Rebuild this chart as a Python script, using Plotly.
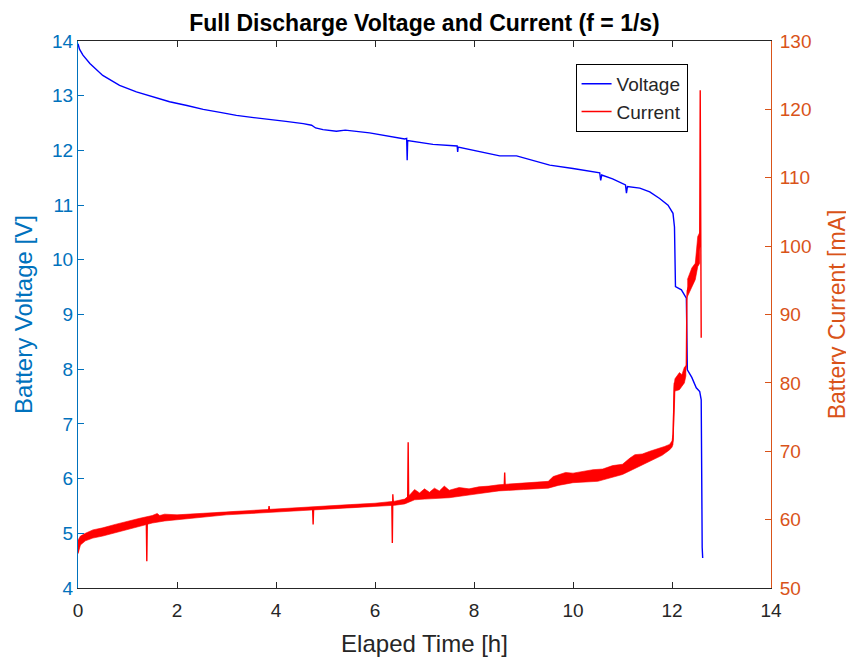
import plotly.graph_objects as go

# ---- Voltage (left axis) ----
volt_t = [0.00, 0.03, 0.10, 0.24, 0.50, 0.84, 1.18, 1.50, 1.85, 2.20, 2.53, 2.90, 3.20, 3.55, 3.87,
          4.20, 4.55, 4.72, 4.80, 4.95, 5.22, 5.40, 5.89, 6.20, 6.60, 6.64, 6.65, 6.66, 7.17, 7.66,
          7.67, 7.68, 8.00, 8.30, 8.52, 8.86, 9.20, 9.53, 10.00, 10.30, 10.54, 10.56, 10.58, 10.80,
          11.06, 11.08, 11.10, 11.35, 11.55, 11.75, 11.92, 12.02, 12.05, 12.07, 12.19, 12.29, 12.31,
          12.40, 12.49, 12.56, 12.59, 12.61, 12.62]
volt_v = [13.95, 13.85, 13.74, 13.59, 13.37, 13.19, 13.07, 12.98, 12.89, 12.82, 12.75, 12.69, 12.64, 12.60, 12.57,
          12.53, 12.49, 12.46, 12.41, 12.38, 12.35, 12.37, 12.32, 12.27, 12.21, 12.22, 11.82, 12.18, 12.11, 12.08,
          11.97, 12.06, 12.00, 11.93, 11.90, 11.90, 11.82, 11.73, 11.67, 11.62, 11.59, 11.45, 11.55, 11.48,
          11.37, 11.22, 11.34, 11.31, 11.24, 11.12, 11.00, 10.85, 10.60, 9.51, 9.45, 9.30, 7.99,
          7.85, 7.66, 7.59, 7.44, 4.74, 4.55]

# ---- Current (right axis) ----
cur_t = [0.00, 0.01, 0.05, 0.15, 0.30, 0.50, 1.00, 1.38, 1.39, 1.40, 2.00, 2.46, 3.00, 3.85, 3.86, 3.87,
         4.74, 4.75, 4.76, 5.83, 6.34, 6.35, 6.36, 6.37, 6.66, 6.67, 6.68, 7.00, 7.50, 8.00, 8.61, 8.62,
         8.63, 9.00, 9.50, 10.00, 10.50, 11.00, 11.50, 11.82, 12.00, 12.02, 12.04, 12.05, 12.10, 12.20,
         12.27, 12.29, 12.30, 12.31, 12.40, 12.47, 12.52, 12.56, 12.57, 12.575, 12.58, 12.59]
cur_ma = [55.2, 56.0, 57.0, 57.5, 57.9, 58.2, 59.2, 59.9, 53.9, 60.0, 60.4, 60.7, 61.0, 61.3, 62.0, 61.3,
          61.6, 59.3, 61.6, 62.0, 62.4, 56.6, 63.7, 62.4, 62.7, 71.3, 62.9, 63.6, 63.7, 64.1, 64.5, 66.9,
          64.5, 64.9, 65.1, 66.1, 66.5, 67.3, 69.1, 69.9, 71.0, 71.7, 76.0, 80.0, 79.5, 80.5,
          81.9, 82.5, 92.0, 93.5, 95.5, 96.3, 99.0, 100.0, 122.8, 107.0, 110.0, 86.6]

# noise envelope of the current trace (lower edge)
band_lo_t = [0.00, 0.05, 0.15, 0.30, 0.50, 0.75, 1.00, 1.25, 1.50, 1.75, 2.00, 2.50, 3.00, 3.50, 4.00,
             4.50, 5.00, 5.50, 6.00, 6.40, 6.60, 6.70, 6.80, 7.00, 7.50, 8.00, 8.50, 9.00, 9.50,
             9.70, 10.00, 10.50, 11.00, 11.20, 11.50, 11.80, 11.95, 12.00, 12.02, 12.04, 12.06,
             12.15, 12.25, 12.28]
band_low = [55.0, 56.3, 56.9, 57.3, 57.6, 58.1, 58.6, 59.1, 59.5, 59.8, 60.0, 60.4, 60.7, 60.9, 61.1,
            61.3, 61.5, 61.7, 61.9, 62.1, 62.3, 62.6, 62.9, 63.0, 63.2, 63.7, 64.2, 64.4, 64.6,
            65.0, 65.4, 65.6, 66.6, 67.3, 68.3, 69.4, 70.2, 70.6, 71.0, 75.0, 78.8,
            79.0, 80.0, 81.0]
# upper edge, with the visible noise spikes
band_hi_t = [0.00, 0.05, 0.15, 0.30, 0.50, 0.75, 1.00, 1.25, 1.50, 1.60, 1.65, 1.75, 2.00, 2.50, 3.00,
             3.50, 4.00, 4.50, 5.00, 5.50, 6.00, 6.40, 6.60, 6.70, 6.80, 6.90, 7.00, 7.10, 7.20, 7.30,
             7.40, 7.50, 7.70, 7.90, 8.10, 8.30, 8.50, 8.70, 8.90, 9.10, 9.30, 9.50, 9.60, 9.70, 9.85,
             10.00, 10.20, 10.40, 10.60, 10.80, 11.00, 11.15, 11.25, 11.40, 11.55, 11.70, 11.85, 11.95,
             12.00, 12.02, 12.04, 12.06, 12.10, 12.15, 12.20, 12.25, 12.28]
band_high = [57.0, 57.6, 58.0, 58.5, 58.8, 59.3, 59.8, 60.2, 60.6, 60.9, 60.6, 60.8, 60.7, 61.0, 61.2,
             61.4, 61.6, 61.8, 62.0, 62.2, 62.4, 62.7, 63.0, 63.6, 64.4, 63.9, 64.5, 64.0, 64.6, 64.2,
             64.9, 64.3, 64.7, 64.5, 64.8, 64.9, 65.1, 65.3, 65.4, 65.4, 65.5, 65.6, 66.3, 66.6, 66.9,
             66.8, 67.0, 67.3, 67.4, 67.9, 68.1, 69.0, 69.5, 69.6, 70.0, 70.4, 70.7, 71.0,
             71.5, 72.5, 79.5, 80.6, 81.0, 81.5, 81.2, 82.3, 82.5]
band2_t = [12.31, 12.40, 12.47, 12.52, 12.56]
band2_low = [92.6, 94.0, 95.1, 97.0, 97.5]
band2_high = [95.1, 96.8, 97.5, 101.4, 102.0]

x_ticks = [0, 2, 4, 6, 8, 10, 12, 14]
yl_ticks = [4, 5, 6, 7, 8, 9, 10, 11, 12, 13, 14]
yr_ticks = [50, 60, 70, 80, 90, 100, 110, 120, 130]

BLUE_AX = "#0072BD"
ORANGE_AX = "#D95319"
DARK = "#262626"
FONT = "Liberation Sans, Arial, sans-serif"

fig = go.Figure()
fig.add_trace(go.Scatter(x=volt_t, y=volt_v, mode="lines", name="Voltage",
                         line=dict(color="#0000FF", width=1.4), yaxis="y"))
# filled noise band: lower edge then upper edge (closed polygon)
for lt, lo, ht, hi in [(band_lo_t, band_low, band_hi_t, band_high),
                       (band2_t, band2_low, band2_t, band2_high)]:
    poly_t = list(lt) + list(ht)[::-1]
    poly_v = list(lo) + list(hi)[::-1]
    fig.add_trace(go.Scatter(x=poly_t, y=poly_v, mode="lines", line=dict(color="#FF0000", width=0.6),
                             fill="toself", fillcolor="#FF0000",
                             showlegend=False, hoverinfo="skip", yaxis="y2"))
fig.add_trace(go.Scatter(x=cur_t, y=cur_ma, mode="lines", name="Current",
                         line=dict(color="#FF0000", width=1.4), yaxis="y2"))

fig.update_layout(
    width=854, height=660,
    paper_bgcolor="white", plot_bgcolor="white",
    margin=dict(l=70, r=91, t=33, b=80, autoexpand=False),
    font=dict(family=FONT, size=19, color=DARK),
    title=dict(text="<b>Full Discharge Voltage and Current (f = 1/s)</b>",
               x=0.5, xref="paper", xanchor="center", y=0.99, yanchor="top",
               font=dict(family=FONT, size=23, color="#000000")),
    xaxis=dict(range=[0, 14], tickvals=x_ticks, ticks="inside", ticklen=6, tickcolor=DARK,
               showline=True, linecolor=DARK, linewidth=1, mirror="ticks", showgrid=False,
               zeroline=False, automargin=False, tickfont=dict(size=19, color=DARK),
               ticklabelstandoff=5,
               title=dict(text="Elaped Time [h]", font=dict(size=24, color=DARK), standoff=15)),
    yaxis=dict(range=[4, 14], tickvals=yl_ticks, ticks="inside", ticklen=6, tickcolor=BLUE_AX,
               showline=True, linecolor=BLUE_AX, linewidth=1, showgrid=False, zeroline=False,
               automargin=False, tickfont=dict(size=19, color=BLUE_AX),
               title=dict(text="Battery Voltage [V]", font=dict(size=24, color=BLUE_AX), standoff=12)),
    yaxis2=dict(range=[50, 130], tickvals=yr_ticks, ticks="inside", ticklen=6, tickcolor=ORANGE_AX,
                overlaying="y", side="right", anchor="x",
                showline=True, linecolor=ORANGE_AX, linewidth=1, showgrid=False, zeroline=False,
                automargin=False, tickfont=dict(size=19, color=ORANGE_AX), ticklabelstandoff=4,
                title=dict(text="Battery Current [mA]", font=dict(size=23, color=ORANGE_AX), standoff=18)),
    legend=dict(x=0.8796, y=0.958, xanchor="right", yanchor="top", traceorder="normal",
                bgcolor="white", bordercolor="#000000", borderwidth=1,
                font=dict(size=19, color=DARK), tracegroupgap=0),
    showlegend=True,
)

fig.write_html("out.html")
